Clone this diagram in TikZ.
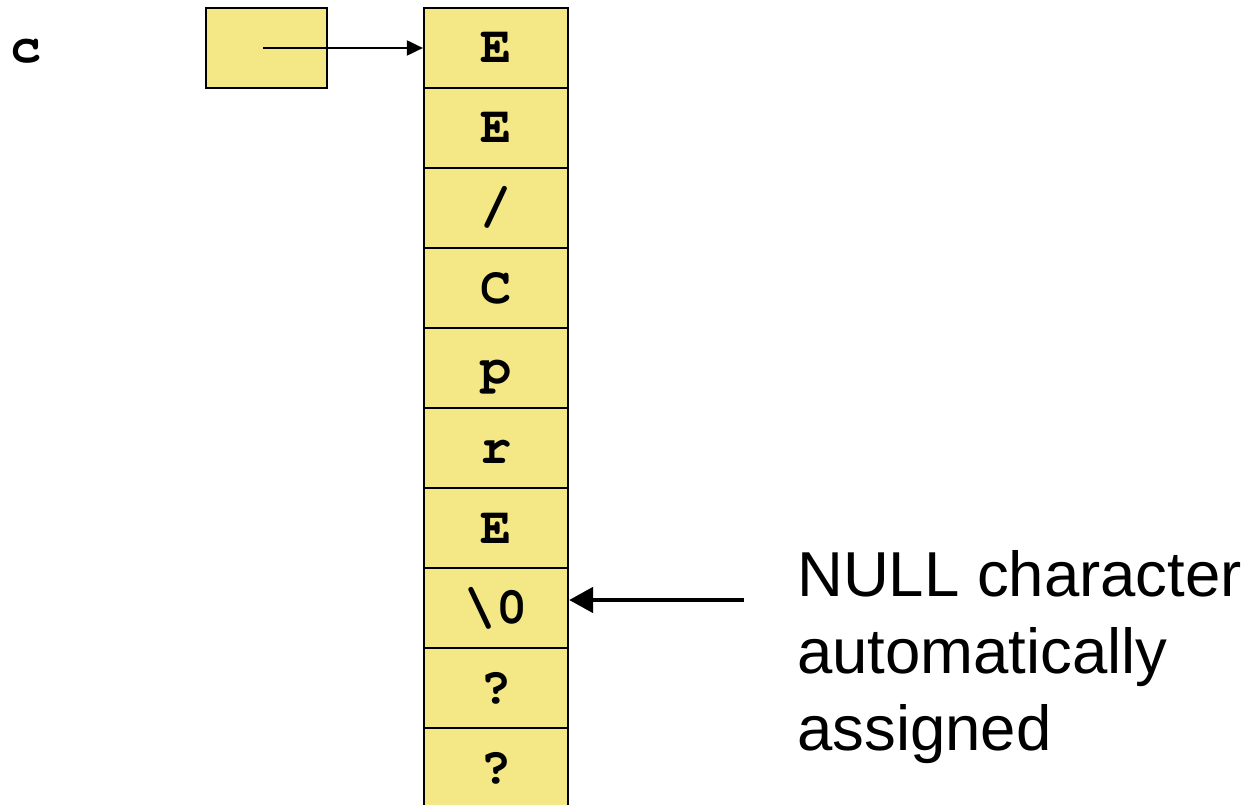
\documentclass[tikz,border=0pt]{standalone}
\usepackage{fontspec}
\setmainfont{Liberation Sans}
\newfontfamily\codefont{TeX Gyre Cursor}
\usetikzlibrary{arrows.meta}
\definecolor{cellyellow}{RGB}{244,232,134}
\tikzset{
  codetext/.style={font=\codefont\bfseries\fontsize{52}{56}\selectfont, text height=30pt, text depth=0pt},
  cell/.style={draw=black, line width=2.2pt, fill=cellyellow, minimum width=144pt, minimum height=80pt, inner sep=0pt, codetext},
  ptrbox/.style={draw=black, line width=1.8pt, fill=cellyellow, minimum width=121pt, minimum height=80pt, inner sep=0pt},
  thinarrow/.style={line width=2pt, -{Triangle[length=16pt,width=15pt]}},
  thickarrow/.style={line width=4.7pt, -{Triangle[length=24pt,width=25pt]}},
  label/.style={font=\fontsize{63.5}{77}\selectfont, align=left, anchor=north west, inner sep=0pt}
}
\begin{document}
\begin{tikzpicture}[x=1pt,y=-1pt]
\useasboundingbox (0,0) rectangle (1256,805);
\node[codetext, inner sep=0pt] (c) at (26,48) {c};
\node[ptrbox] (p) at (266.5,48) {};
\node[cell] (c0) at (496,48) {E};
\node[cell] (c1) at (496,128) {E};
\node[cell] (c2) at (496,208) {/};
\node[cell] (c3) at (496,288) {C};
\node[cell] (c4) at (496,368) {p};
\node[cell] (c5) at (496,448) {r};
\node[cell] (c6) at (496,528) {E};
\node[cell] (c7) at (496,608) {\textbackslash0};
\node[cell] (c8) at (496,688) {?};
\node[cell] (c9) at (496,768) {?};
\coordinate (ps) at (263,48);
\draw[thinarrow] (ps) -- (c0.west);
\coordinate (ns) at (744,600);
\draw[thickarrow] (ns) -- (c7.east |- ns);
\node[label] (t) at (797,550) {NULL character\\automatically\\assigned};
\end{tikzpicture}
\end{document}
